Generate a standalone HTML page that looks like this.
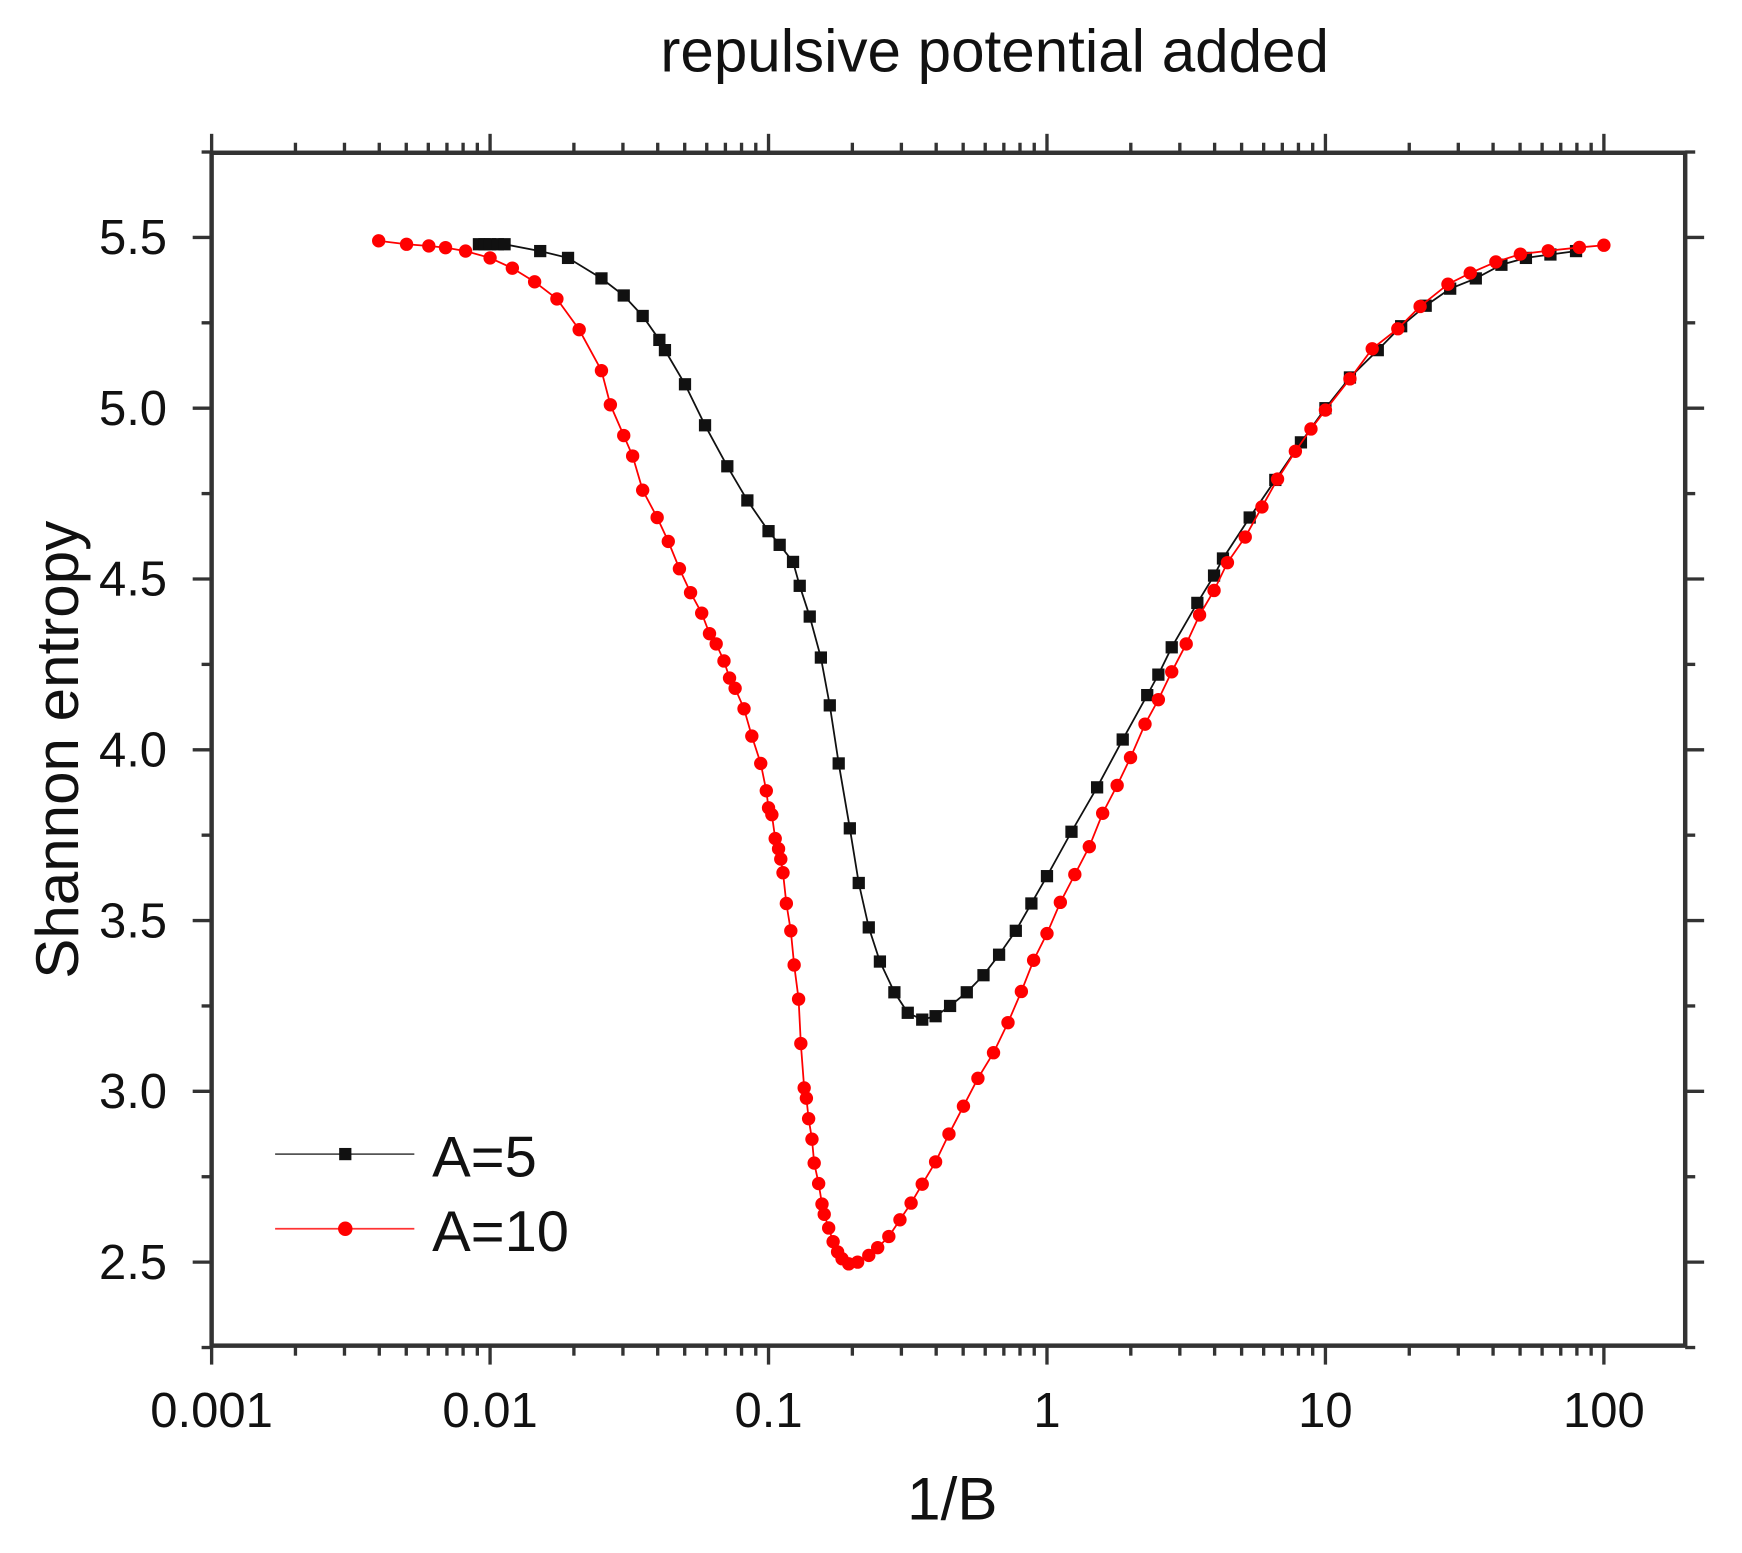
<!DOCTYPE html>
<html><head><meta charset="utf-8"><style>html,body{margin:0;padding:0;background:#fff}svg{display:block}</style></head>
<body>
<svg id="s" xmlns="http://www.w3.org/2000/svg" width="1742" height="1553" viewBox="0 0 1564 1394" font-family="Liberation Sans, sans-serif"></svg>
<script>
const s=document.getElementById('s');
const L=190,R=1513,T=137,B=1208;
const X=v=>L+(Math.log10(v)+3)*250;
const Y=v=>213+(5.5-v)*306.67;
let h='';
h+=`<text x="893" y="64" font-size="54" text-anchor="middle" fill="#111">repulsive potential added</text>`;
h+=`<rect x="${L}" y="${T}" width="${R-L}" height="${B-T}" fill="none" stroke="#333" stroke-width="4"/>`;
for(let d=-3;d<=2;d++){
 for(let m=1;m<10;m++){
  const v=m*Math.pow(10,d); const x=X(v); if(x>R)break;
  const len=m==1?17:9;
  h+=`<line x1="${x}" y1="${B}" x2="${x}" y2="${B+len}" stroke="#333" stroke-width="3"/>`;
  h+=`<line x1="${x}" y1="${T}" x2="${x}" y2="${T-len}" stroke="#333" stroke-width="3"/>`;
  if(m==1)h+=`<text x="${x}" y="1281" font-size="44" text-anchor="middle" fill="#111">${v>=1?v:v.toFixed(-d)}</text>`;
 }
}
for(let v=2.25;v<=5.76;v+=0.25){
 const y=Y(v); const maj=Math.abs(v*2-Math.round(v*2))<0.01; const len=maj?17:9;
 h+=`<line x1="${L}" y1="${y}" x2="${L-len}" y2="${y}" stroke="#333" stroke-width="3"/>`;
 h+=`<line x1="${R}" y1="${y}" x2="${R+len}" y2="${y}" stroke="#333" stroke-width="3"/>`;
 if(maj&&v>=2.5&&v<=5.5)h+=`<text x="150" y="${y+15}" font-size="44" text-anchor="end" fill="#111">${v.toFixed(1)}</text>`;
}
h+=`<text transform="translate(70,673) rotate(-90)" font-size="54" text-anchor="middle" fill="#111">Shannon entropy</text>`;
h+=`<text x="855" y="1364" font-size="54" text-anchor="middle" fill="#111">1/B</text>`;
const black=[[430,5.48],[435,5.48],[440,5.48],[447,5.48],[453,5.48],[485,5.46],[510,5.44],[540,5.38],[560,5.33],[577,5.27],[592,5.2],[597,5.17],[615,5.07],[633,4.95],[653,4.83],[671,4.73],[690,4.64],[700,4.6],[712,4.55],[718,4.48],[727,4.39],[737,4.27],[745,4.13],[753,3.96],[763,3.77],[771,3.61],[780,3.48],[790,3.38],[803,3.29],[815,3.23],[828,3.21],[840,3.22],[853,3.25],[868,3.29],[883,3.34],[897,3.40],[912,3.47],[926,3.55],[940,3.63],[962,3.76],[985,3.89],[1008,4.03],[1030,4.16],[1040,4.22],[1052,4.30],[1075,4.43],[1090,4.51],[1098,4.56],[1122,4.68],[1145,4.79],[1168,4.90],[1190,5.00],[1212,5.09],[1237,5.17],[1258,5.24],[1280,5.30],[1302,5.35],[1325,5.38],[1348,5.42],[1370,5.44],[1392,5.45],[1415,5.46]];
const redL=[[340,5.49],[365,5.48],[385,5.475],[400,5.47],[418,5.46],[440,5.44],[460,5.41],[480,5.37],[500,5.32],[520,5.23],[540,5.11],[548,5.01],[560,4.92],[568,4.86],[577,4.76],[590,4.68],[600,4.61],[610,4.53],[620,4.46],[630,4.40],[637,4.34],[643,4.31],[650,4.26],[655,4.21],[660,4.18],[668,4.12],[675,4.04],[683,3.96],[688,3.88],[690,3.83],[693,3.81],[696,3.74],[699,3.71],[701,3.68],[703,3.64],[706,3.55],[710,3.47],[713,3.37],[717,3.27],[719,3.14],[722,3.01],[724,2.98],[726,2.92],[729,2.86],[731,2.79],[735,2.73],[738,2.67],[740,2.64],[744,2.60],[748,2.56],[752,2.53],[756,2.51],[762,2.495]];
const redRy=[[770,1133],[780,1127],[788,1120],[798,1110],[808,1095],[818,1080],[828,1063],[840,1043],[852,1018],[865,993],[878,968],[892,945],[905,918],[917,890],[928,862],[940,838],[952,810],[965,785],[978,760],[990,730],[1003,705],[1015,680],[1028,650],[1040,628],[1052,603],[1065,578],[1077,552],[1090,530],[1102,505],[1118,482],[1133,455],[1147,430],[1163,405],[1177,385],[1190,368],[1212,340],[1232,313],[1255,295],[1275,275],[1300,255],[1320,245],[1343,235],[1365,228],[1390,225],[1418,222],[1440,220]];
const red=redL.concat(redRy.map(p=>[p[0],5.5-(p[1]-213)/306.67]));
function series(d,col,sq){
 h+=`<polyline fill="none" stroke="${col}" stroke-width="1.6" points="${d.map(p=>p[0]+','+Y(p[1])).join(' ')}"/>`;
 d.forEach(p=>{const y=Y(p[1]); h+=sq?`<rect x="${p[0]-5.5}" y="${y-5.5}" width="11" height="11" fill="${col}"/>`:`<circle cx="${p[0]}" cy="${y}" r="6" fill="${col}"/>`;});
}
series(black,'#111',true);
series(red,'#f00',false);
h+=`<line x1="247" y1="1036" x2="372" y2="1036" stroke="#555" stroke-width="1.6"/><rect x="304.5" y="1030.5" width="11" height="11" fill="#111"/>`;
h+=`<text x="388" y="1056" font-size="52" fill="#111">A=5</text>`;
h+=`<line x1="247" y1="1103" x2="372" y2="1103" stroke="#f33" stroke-width="1.6"/><circle cx="310" cy="1103" r="6.5" fill="#f00"/>`;
h+=`<text x="388" y="1123" font-size="52" fill="#111">A=10</text>`;
s.innerHTML=h;
</script>
</body></html>
